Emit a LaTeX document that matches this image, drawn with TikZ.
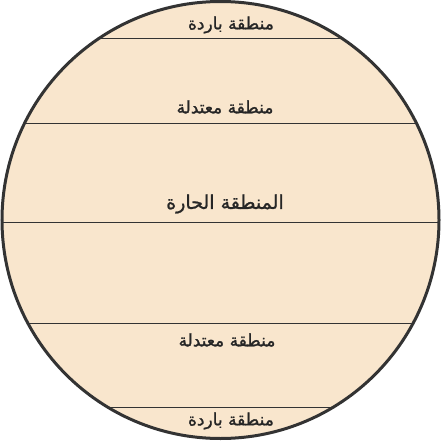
\documentclass[tikz,border=0pt]{standalone}
\usepackage{fontspec}
\newfontfamily\arabicfont[Script=Arabic, FakeBold=1.2]{DejaVu Sans}
\TeXXeTstate=1
\definecolor{zonefill}{HTML}{F9E6CD}
\definecolor{rimgray}{HTML}{333333}
\definecolor{labelgray}{HTML}{262626}

\begin{document}
\begin{tikzpicture}[x=1pt, y=-1pt,
    zone/.style={font=\arabicfont\fontsize{17}{20}\selectfont, text=labelgray, inner sep=0pt},
    hotzone/.style={zone, font=\arabicfont\fontsize{19}{22}\selectfont}]
    \useasboundingbox (0,0) rectangle (441,444);

    % Sphere
    \fill[zonefill] (220.5,220) circle (218.5);

    % Zone boundaries
    \begin{scope}
        \clip (220.5,220) circle (218.5);
        \foreach \y in {38,123,222,323,407}
            \draw[rimgray, line width=0.8pt] (0,\y) -- (441,\y);
    \end{scope}
    \draw[rimgray, line width=3pt] (220.5,220) circle (218.5);

    % Zone names
    \node[zone] (coldN) at (231,25) {\beginR منطقة باردة\endR};
    \node[zone] (tempN) at (225,107) {\beginR منطقة معتدلة\endR};
    \node[hotzone] (hot) at (225,204) {\beginR المنطقة الحارة\endR};
    \node[zone] (tempS) at (227,340) {\beginR منطقة معتدلة\endR};
    \node[zone] (coldS) at (231,421) {\beginR منطقة باردة\endR};
\end{tikzpicture}
\end{document}
